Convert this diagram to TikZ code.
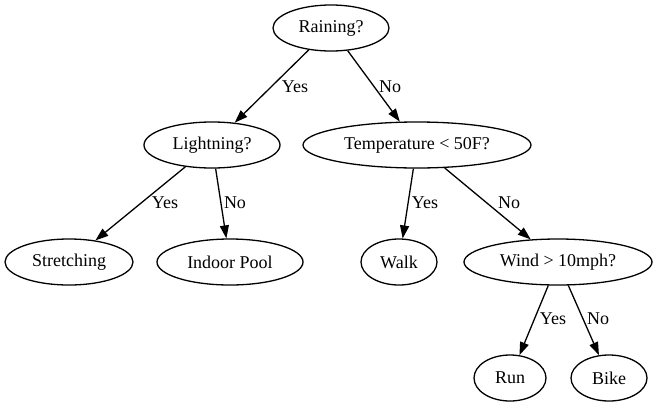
\documentclass[tikz,border=0pt]{standalone}
\usepackage{fontspec}
\setmainfont{Liberation Serif}
\usetikzlibrary{arrows.meta,shapes.geometric}

\begin{document}
\begin{tikzpicture}[
  x=1pt, y=-1pt,
  every node/.style={font=\fontsize{18}{20}\selectfont},
  Q/.style={draw,ellipse,line width=1.3pt,inner sep=0pt,minimum height=46pt},
  E/.style={line width=1.3pt,-{Triangle[length=13pt,width=9pt]}},
  L/.style={inner sep=0pt}
]
\useasboundingbox (0,0) rectangle (658,407);

\node[Q,minimum width=116pt] (rain) at (331,28) {Raining?};

\node[Q,minimum width=136pt] (light) at (212,145) {Lightning?};
\node[Q,minimum width=228pt] (temp) at (417,145) {Temperature < 50F?};

\node[Q,minimum width=128pt] (stretch) at (69,262) {Stretching};
\node[Q,minimum width=146pt] (pool) at (230,262) {Indoor Pool};
\node[Q,minimum width=76pt] (walk) at (399,262) {Walk};
\node[Q,minimum width=188pt] (wind) at (558,262) {Wind > 10mph?};

\node[Q,minimum width=72pt] (run) at (510,378) {Run};
\node[Q,minimum width=76pt] (bike) at (609,378) {Bike};

\draw[E] (rain) -- (light);
\draw[E] (rain) -- (temp);
\draw[E] (light) -- (stretch);
\draw[E] (light) -- (pool);
\draw[E] (temp) -- (walk);
\draw[E] (temp) -- (wind);
\draw[E] (wind) -- (run);
\draw[E] (wind) -- (bike);

\node[L] (yes1) at (295,87) {Yes};
\node[L] (no1) at (390,87) {No};
\node[L] (yes2) at (165,203) {Yes};
\node[L] (no2) at (235,203) {No};
\node[L] (yes3) at (425,203) {Yes};
\node[L] (no3) at (509,203) {No};
\node[L] (yes4) at (553,319) {Yes};
\node[L] (no4) at (598,319) {No};
\end{tikzpicture}
\end{document}
